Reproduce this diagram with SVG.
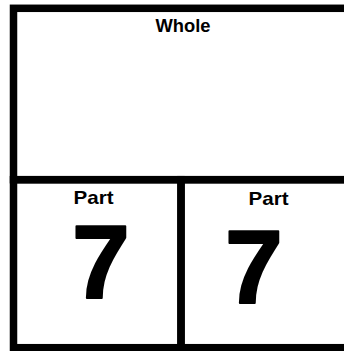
<svg xmlns="http://www.w3.org/2000/svg" width="344" height="351" viewBox="0 0 344 351">
<style>
.frame{fill:none;stroke:#000;stroke-width:7.5;stroke-linecap:square}
.lbl{font-family:"Liberation Sans",Arial,sans-serif;font-weight:bold;font-size:18.5px;text-anchor:middle;fill:#000}
.num{font-family:"Liberation Sans",Arial,sans-serif;font-weight:bold;font-size:104px;text-anchor:middle;fill:#000;stroke:#000;stroke-width:2;stroke-linejoin:round}
</style>
<rect width="344" height="351" fill="#fff"/>
<g id="whole">
<rect class="frame" x="13.5" y="8.3" width="345" height="171.4"/>
<text class="lbl" x="183" y="31.5" textLength="55" lengthAdjust="spacingAndGlyphs">Whole</text>
</g>
<g id="part1">
<rect class="frame" x="13.5" y="179.7" width="167.5" height="168"/>
<text class="lbl" x="93.5" y="203.5" textLength="40" lengthAdjust="spacingAndGlyphs">Part</text>
<text class="num" x="101" y="297.5">7</text>
</g>
<g id="part2">
<rect class="frame" x="181" y="179.7" width="180" height="168"/>
<text class="lbl" x="268.5" y="205" textLength="40" lengthAdjust="spacingAndGlyphs">Part</text>
<text class="num" x="254" y="302.5">7</text>
</g>
<g id="connectors"></g>
</svg>
